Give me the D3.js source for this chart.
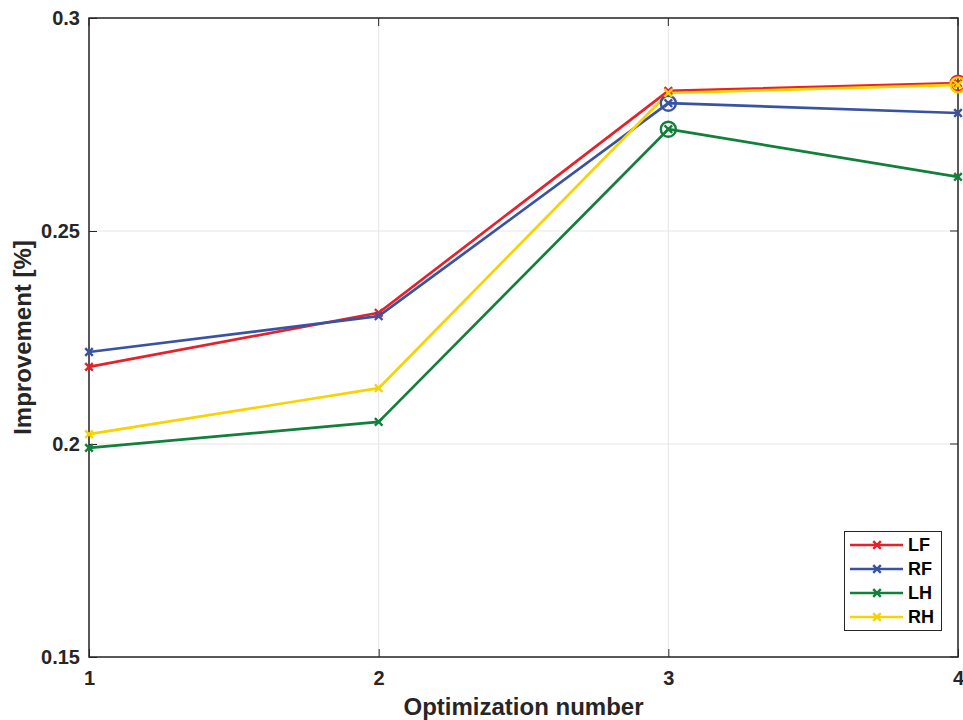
<!DOCTYPE html>
<html><head><meta charset="utf-8">
<script src="https://cdn.jsdelivr.net/npm/d3@7"></script>
<style>body{margin:0;background:#fff;} svg{display:block;font-family:"Liberation Sans",Arial,sans-serif;}</style>
</head><body>
<svg id="c" width="963" height="720"></svg>
<script>
const categories = [1, 2, 3, 4];
const seriesNames = ["LF", "RF", "LH", "RH"];
const LF = [0.2181, 0.2308, 0.2829, 0.2847];
const RF = [0.2216, 0.2300, 0.2800, 0.2777];
const LH = [0.1991, 0.2052, 0.2739, 0.2627];
const RH = [0.2023, 0.2131, 0.2824, 0.2843];
const colors = ["#e8202a", "#3953a4", "#127f3a", "#f8d300"];
const yTicks = [0.15, 0.2, 0.25, 0.3];
const yTickLabels = ["0.15", "0.2", "0.25", "0.3"];
const xTicks = [1, 2, 3, 4];

const series = [LF, RF, LH, RH];
const svg = d3.select("#c");
const m = {l: 89, r: 958, t: 18, b: 657};
const x = d3.scaleLinear().domain([1, 4]).range([m.l, m.r]);
const y = d3.scaleLinear().domain([0.15, 0.3]).range([m.b, m.t]);

// grid
svg.append("g").selectAll("line.gx").data(xTicks).join("line")
  .attr("x1", d => x(d)).attr("x2", d => x(d)).attr("y1", m.t).attr("y2", m.b)
  .attr("stroke", "#e6e6e6").attr("stroke-width", 1);
svg.append("g").selectAll("line.gy").data(yTicks).join("line")
  .attr("x1", m.l).attr("x2", m.r).attr("y1", d => y(d)).attr("y2", d => y(d))
  .attr("stroke", "#e6e6e6").attr("stroke-width", 1);

// axes
const ax = svg.append("g").attr("transform", `translate(0,${m.b})`)
  .call(d3.axisBottom(x).tickValues(xTicks).tickFormat(d3.format("d")).tickSizeInner(-8).tickSizeOuter(0).tickPadding(12));
const ay = svg.append("g").attr("transform", `translate(${m.l},0)`)
  .call(d3.axisLeft(y).tickValues(yTicks).tickFormat((d,i) => yTickLabels[i]).tickSizeInner(-8).tickSizeOuter(0).tickPadding(9));
[ax, ay].forEach(a => {
  a.select(".domain").remove();
  a.selectAll("line").attr("stroke", "#262626");
  a.selectAll("text").attr("fill", "#262626").attr("font-size", 20).attr("font-weight", "bold")
    .attr("font-family", "'Liberation Sans', Arial, sans-serif");
});
ax.selectAll("text").attr("y", 28).attr("dy", 0);
// top/right ticks
svg.append("g").selectAll("line").data(xTicks).join("line")
  .attr("x1", d => x(d)).attr("x2", d => x(d)).attr("y1", m.t).attr("y2", m.t + 8).attr("stroke", "#262626");
svg.append("g").selectAll("line").data(yTicks).join("line")
  .attr("x1", m.r - 8).attr("x2", m.r).attr("y1", d => y(d)).attr("y2", d => y(d)).attr("stroke", "#262626");
// box
svg.append("rect").attr("x", m.l).attr("y", m.t).attr("width", m.r - m.l).attr("height", m.b - m.t)
  .attr("fill", "none").attr("stroke", "#262626").attr("stroke-width", 1.5);

// lines
const line = d3.line().x((d, i) => x(categories[i])).y(d => y(d));
const xMark = (g, cx, cy, col, s) => {
  g.append("path").attr("d", `M${cx-s},${cy-s}L${cx+s},${cy+s}M${cx-s},${cy+s}L${cx+s},${cy-s}`)
    .attr("stroke", col).attr("stroke-width", 2.4).attr("fill", "none");
};
const lg = svg.append("g");
series.forEach((s, k) => {
  lg.append("path").datum(s).attr("d", line).attr("fill", "none")
    .attr("stroke", colors[k]).attr("stroke-width", 2.7).attr("stroke-linejoin", "round");
});
series.forEach((s, k) => {
  s.forEach((v, i) => xMark(lg, x(categories[i]), y(v), colors[k], 3.8));
  const mi = d3.maxIndex(s);
  lg.append("circle").attr("cx", x(categories[mi])).attr("cy", y(s[mi])).attr("r", 7.5)
    .attr("fill", "none").attr("stroke", colors[k]).attr("stroke-width", 2.4);
});

// legend
const L = svg.append("g");
L.append("rect").attr("x", 844.5).attr("y", 531.5).attr("width", 97).attr("height", 99)
  .attr("fill", "#fff").attr("stroke", "#262626").attr("stroke-width", 1);
seriesNames.forEach((n, k) => {
  const yy = 545 + k * 24;
  L.append("line").attr("x1", 850).attr("x2", 903).attr("y1", yy).attr("y2", yy)
    .attr("stroke", colors[k]).attr("stroke-width", 2.7);
  xMark(L, 877, yy, colors[k], 3.8);
  L.append("text").attr("x", 908).attr("y", yy).attr("dy", "0.36em").text(n)
    .attr("font-size", 18).attr("font-weight", "bold").attr("fill", "#000");
});

// axis labels
svg.append("text").attr("x", (m.l + m.r) / 2).attr("y", 715).attr("text-anchor", "middle")
  .attr("font-size", 24).attr("font-weight", "bold").attr("fill", "#262626").text("Optimization number");
svg.append("text").attr("transform", `translate(31,${(m.t + m.b) / 2}) rotate(-90)`).attr("text-anchor", "middle")
  .attr("font-size", 24).attr("font-weight", "bold").attr("fill", "#262626").text("Improvement [%]");
</script>
</body></html>
